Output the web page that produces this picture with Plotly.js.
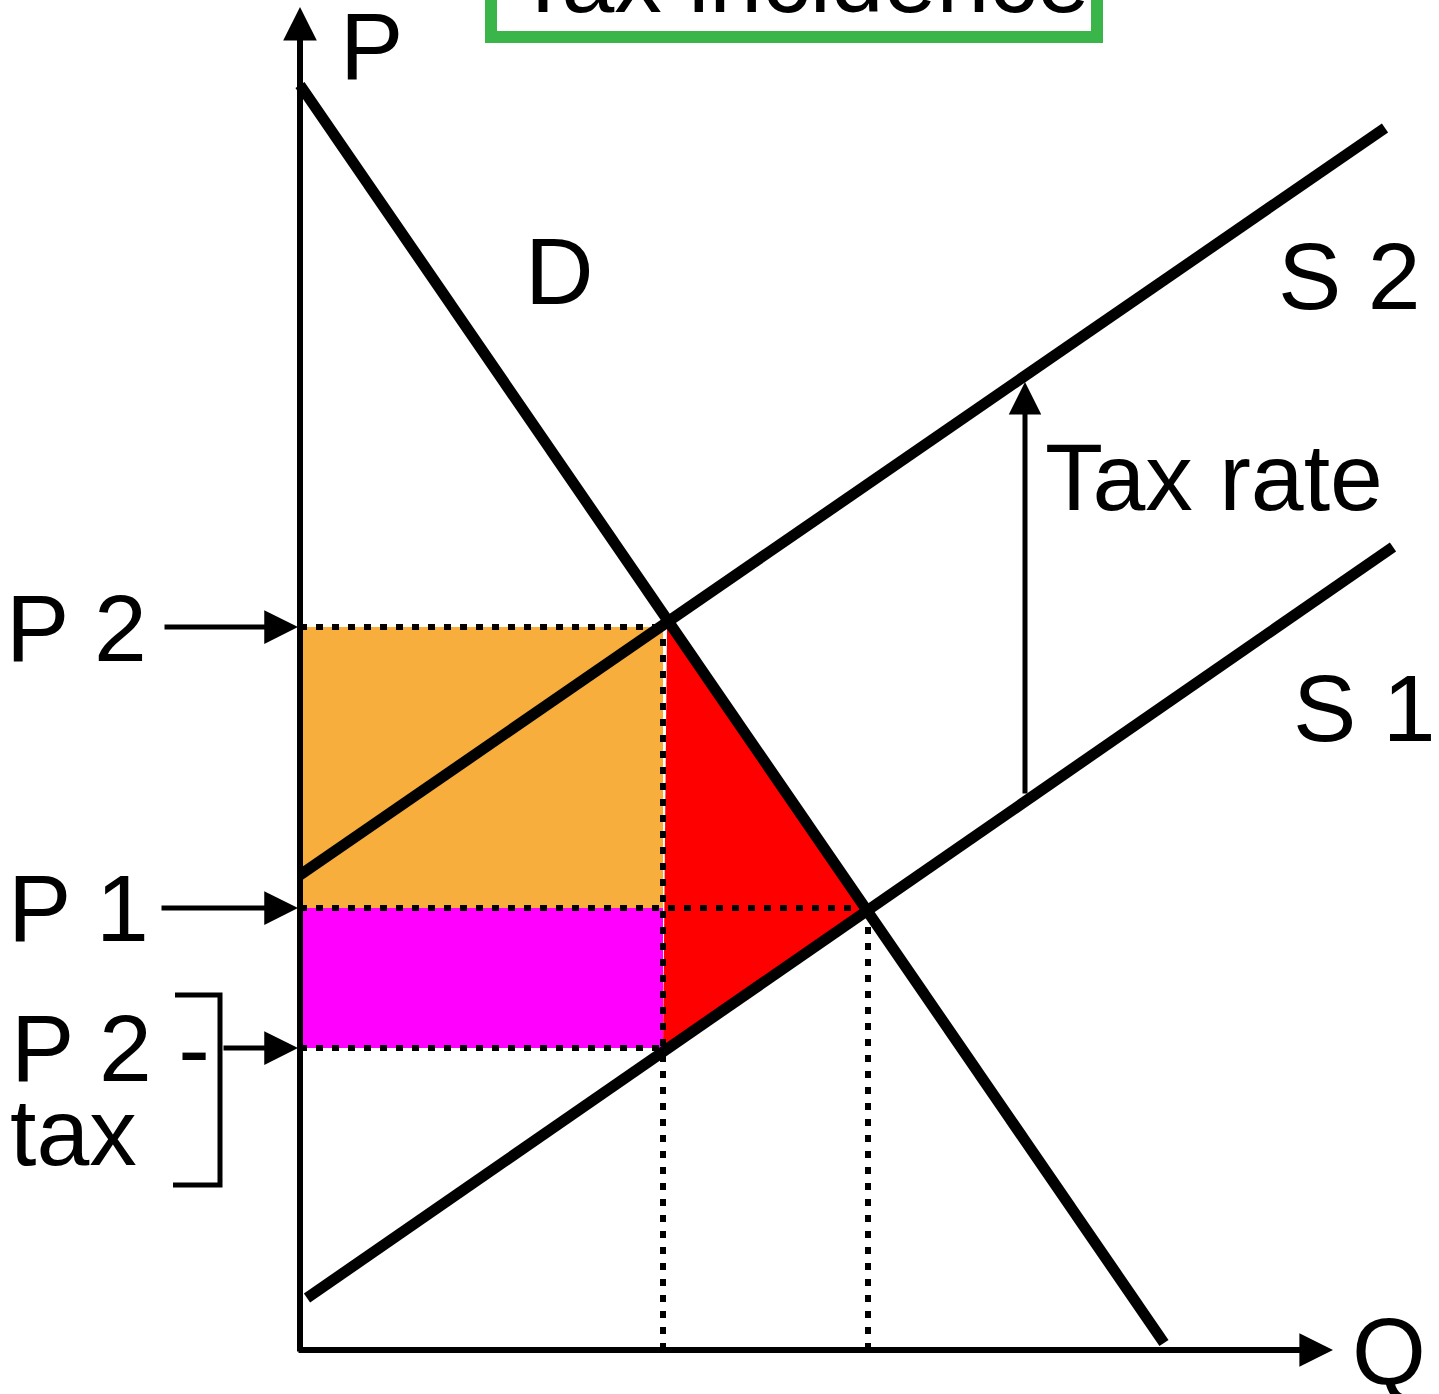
<!DOCTYPE html>
<html>
<head>
<meta charset="utf-8">
<script src="https://cdn.plot.ly/plotly-3.0.1.min.js"></script>
<style>
  html, body { margin: 0; padding: 0; background: #ffffff; }
  #chart { width: 1439px; height: 1394px; }
</style>
</head>
<body>
<div id="chart"></div>
<script>
// ---- Values (chart units: origin at the axes corner) ----
const demandQ = [0, 864];
const demandP = [1265, 7];
const supply1Q = [7, 1093];
const supply1P = [52, 803];
const supply2Q = [0, 1085];
const supply2P = [475, 1222];

const qAfterTax = 363;      // Q after the tax
const qBefore = 568;        // original equilibrium Q
const pBuyers = 723;        // P 2
const pOriginal = 442;      // P 1
const pSellers = 302;       // P 2 - tax

const deadweightQ = [367, 566, 363];
const deadweightP = [723, 442, 302];

const taxArrowQ = 725;
const taxArrowFromP = 555;
const taxArrowToP = 968;

const titleText = "Tax incidence";
const axisLabels = ["P", "Q"];
const curveLabels = ["D", "S 2", "S 1"];
const priceLabels = ["P 2", "P 1", "P 2 -", "tax"];
const taxLabel = "Tax rate";

// ---- Styling ----
const FONT = "Arial, 'Liberation Sans', sans-serif";
const BIG = 95;
const ORANGE = "#F8AE3C";
const MAGENTA = "#FF00FF";
const RED = "#FF0000";
const GREEN = "#3AB54A";

const dotted = {color: "#000", width: 6, dash: "7px,9px"};

function rect(q0, q1, p0, p1, color) {
  return {
    x: [q0, q1, q1, q0, q0], y: [p0, p0, p1, p1, p0],
    type: "scatter", mode: "lines", fill: "toself",
    fillcolor: color, line: {width: 0}, hoverinfo: "skip"
  };
}
function seg(x, y, line) {
  return {x: x, y: y, type: "scatter", mode: "lines", line: line, hoverinfo: "skip"};
}

const traces = [
  rect(0, qAfterTax, pOriginal, pBuyers, ORANGE),
  rect(0, qAfterTax, pSellers, pOriginal, MAGENTA),
  {x: deadweightQ.concat([deadweightQ[0]]), y: deadweightP.concat([deadweightP[0]]),
   type: "scatter", mode: "lines", fill: "toself", fillcolor: RED,
   line: {width: 0}, hoverinfo: "skip"},
  seg([0, qAfterTax], [pBuyers, pBuyers], dotted),
  seg([0, qBefore], [pOriginal, pOriginal], dotted),
  seg([0, qAfterTax], [pSellers, pSellers], dotted),
  seg([qAfterTax, qAfterTax], [0, pBuyers], dotted),
  seg([qBefore, qBefore], [0, pOriginal - 14], dotted),
  seg(demandQ, demandP, {color: "#000", width: 11}),
  seg(supply2Q, supply2P, {color: "#000", width: 11}),
  seg(supply1Q, supply1P, {color: "#000", width: 11}),
  // bracket grouping "P 2 - tax"
  seg([-125, -80, -80, -127], [355, 355, 165, 165], {color: "#000", width: 5})
];

function arrow(x, y, ax, ay, w, s) {
  return {x: x, y: y, ax: ax, ay: ay, xref: "x", yref: "y", axref: "x", ayref: "y",
          text: "", showarrow: true, arrowhead: 2, arrowsize: s, arrowwidth: w,
          arrowcolor: "#000", standoff: 0, startstandoff: 0};
}
function label(text, x, y) {
  return {x: x, y: y, xref: "x", yref: "y", text: text, showarrow: false,
          xanchor: "left", yanchor: "middle",
          font: {family: FONT, size: BIG, color: "#000"}};
}

const annotations = [
  // axes
  arrow(0, 1343, 0, -3, 6, 1.12),
  arrow(1033, 0, -3, 0, 6, 1.12),
  // price pointers
  arrow(-2, pBuyers, -137, pBuyers, 5, 1.35),
  arrow(-2, pOriginal, -140, pOriginal, 5, 1.35),
  arrow(-2, pSellers, -78, pSellers, 5, 1.35),
  // tax rate arrow
  arrow(taxArrowQ, taxArrowToP, taxArrowQ, taxArrowFromP, 5, 1.3),
  // text
  label(axisLabels[0], 38, 1304),
  label(axisLabels[1], 1050, -1),
  label(curveLabels[0], 223, 1079),
  label(curveLabels[1], 976, 1074),
  label(curveLabels[2], 991, 642),
  label(taxLabel, 743, 873),
  label(priceLabels[0], -296, 722),
  label(priceLabels[1], -294, 442),
  label(priceLabels[2], -291, 302),
  label(priceLabels[3], -292, 218),
  // title (its green frame is a layout shape); sits partly above the page top
  {x: 502, y: 1.0151, xref: "x", yref: "paper", text: titleText, showarrow: false,
   xanchor: "center", yanchor: "middle",
   font: {family: FONT, size: BIG, color: "#000"}}
];

const shapes = [
  {type: "rect", xref: "x", yref: "y", x0: 191, x1: 797, y0: 1313, y1: 1440,
   line: {color: GREEN, width: 12}, fillcolor: "rgba(0,0,0,0)", layer: "above"}
];

const layout = {
  width: 1439, height: 1394,
  margin: {l: 0, r: 0, t: 0, b: 0, pad: 0},
  paper_bgcolor: "#ffffff", plot_bgcolor: "#ffffff",
  showlegend: false, hovermode: false,
  xaxis: {range: [-300, 1139], visible: false, fixedrange: true},
  yaxis: {range: [-44, 1350], visible: false, fixedrange: true},
  shapes: shapes,
  annotations: annotations
};

Plotly.newPlot("chart", traces, layout, {staticPlot: true, displayModeBar: false});
</script>
</body>
</html>
